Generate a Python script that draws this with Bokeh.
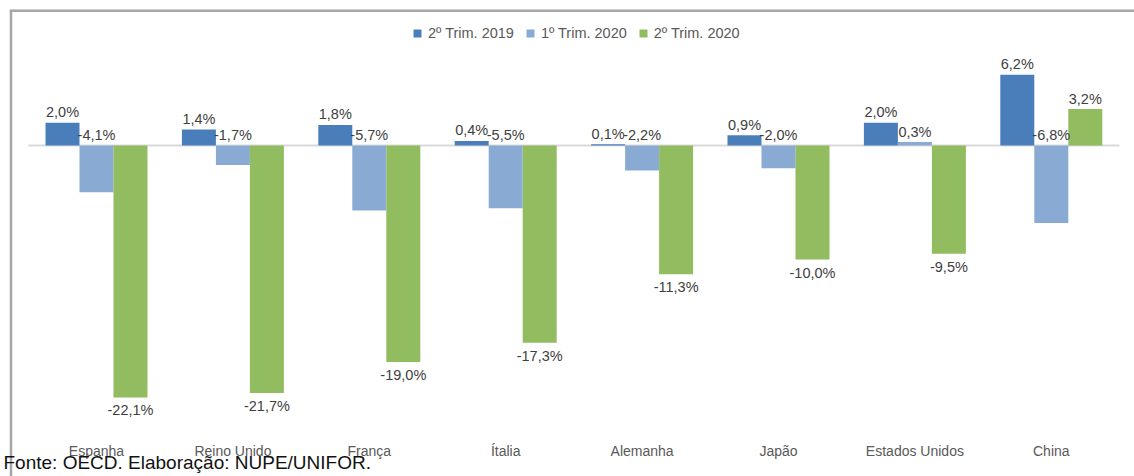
import numpy as np
from bokeh.plotting import figure
from bokeh.models import ColumnDataSource, Legend, LegendItem, Range1d
from bokeh.core.properties import value
from bokeh.embed import file_html
from bokeh.resources import INLINE

# ---------------- data ----------------
categories = ["Espanha", "Reino Unido", "França", "Ítalia", "Alemanha",
              "Japão", "Estados Unidos", "China"]
series_names = ["2º Trim. 2019", "1º Trim. 2020", "2º Trim. 2020"]
q2_2019 = [2.0, 1.4, 1.8, 0.4, 0.1, 0.9, 2.0, 6.2]
q1_2020 = [-4.1, -1.7, -5.7, -5.5, -2.2, -2.0, 0.3, -6.8]
q2_2020 = [-22.1, -21.7, -19.0, -17.3, -11.3, -10.0, -9.5, 3.2]
source_text = "Fonte: OECD. Elaboração: NUPE/UNIFOR."

colors = ["#4a7ebb", "#89abd3", "#92bc60"]
FONT = "Liberation Sans"

# ---------------- geometry ----------------
W, H = 1134, 476
PAGE_OFF = 0
GROUP_PX = 136.4          # px per category
FIRST_CENTER = 96         # page x of first group centre
ZERO_Y = 145              # page y of zero line
PX_PER_PCT = 11.4

def xd(px):   # page x -> data x
    return (px - FIRST_CENTER) / GROUP_PX

def yd(py):   # page y -> data y
    return (ZERO_Y - py) / PX_PER_PCT

p = figure(width=W, height=H, output_backend="svg", toolbar_location=None,
           x_range=Range1d(xd(PAGE_OFF), xd(PAGE_OFF + W)),
           y_range=Range1d(yd(PAGE_OFF + H), yd(PAGE_OFF)),
           min_border=0, min_border_left=0, min_border_right=0,
           min_border_top=0, min_border_bottom=0)
p.axis.visible = False
p.xgrid.visible = False
p.ygrid.visible = False
p.outline_line_color = None
p.background_fill_color = "white"
p.border_fill_color = "white"

# border of the original chart area (open at right/bottom)
p.segment(x0=[xd(10.5), xd(9.25)], y0=[yd(H), yd(10.3)],
          x1=[xd(10.5), xd(W)], y1=[yd(10.3), yd(10.3)],
          line_color="#a6a6a6", line_width=2.5)

x = np.arange(len(categories))
bw = 34 / GROUP_PX
offsets = [-bw, 0.0, bw]
series = [q2_2019, q1_2020, q2_2020]

# zero line
p.segment(x0=[-0.5], x1=[len(categories) - 0.5], y0=[0], y1=[0],
          line_color="#d9d9d9", line_width=2)

renderers = []
for vals, off, col in zip(series, offsets, colors):
    src = ColumnDataSource(dict(x=x + off, top=vals))
    r = p.vbar(x="x", top="top", bottom=0, width=bw, source=src,
               fill_color=col, line_color=None)
    renderers.append(r)

def fmt(v):
    return f"{v:.1f}%".replace(".", ",")

label_size = "14.5px"
label_color = "#404040"
for i, (vals, off) in enumerate(zip(series, offsets)):
    above_x, above_y, above_t = [], [], []
    below_x, below_y, below_t = [], [], []
    for xi, v in zip(x, vals):
        if i == 1:
            above_x.append(xi + off); above_y.append(max(v, 0)); above_t.append(fmt(v))
        elif v >= 0:
            above_x.append(xi + off); above_y.append(v); above_t.append(fmt(v))
        else:
            below_x.append(xi + off); below_y.append(v); below_t.append(fmt(v))
    if above_x:
        p.text(x=above_x, y=above_y, text=above_t, text_align="center",
               text_baseline="middle", y_offset=-10.5,
               text_font=value(FONT), text_font_size=label_size, text_color=label_color)
    if below_x:
        p.text(x=below_x, y=below_y, text=below_t, text_align="center",
               text_baseline="middle", y_offset=13,
               text_font=value(FONT), text_font_size=label_size, text_color=label_color)

# category labels
p.text(x=x, y=[yd(450)] * len(categories), text=categories, text_align="center",
       text_baseline="middle", text_font=value(FONT), text_font_size="14px",
       text_color="#595959")

# legend
legend = Legend(items=[LegendItem(label=n, renderers=[r]) for n, r in zip(series_names, renderers)],
                orientation="horizontal", location=(412, H - 41),
                padding=0, margin=0, spacing=11, label_standoff=6,
                glyph_width=10, glyph_height=10, label_height=14,
                label_text_font=FONT, label_text_font_size="14.5px",
                label_text_color="#595959",
                border_line_color=None, background_fill_alpha=0)
p.add_layout(legend)

# source note
p.text(x=[xd(3)], y=[yd(462)], text=[source_text], text_align="left",
       text_baseline="middle", text_font=value(FONT), text_font_size="19px",
       text_color="#111111")

open("out.html", "w").write(file_html(p, INLINE))
